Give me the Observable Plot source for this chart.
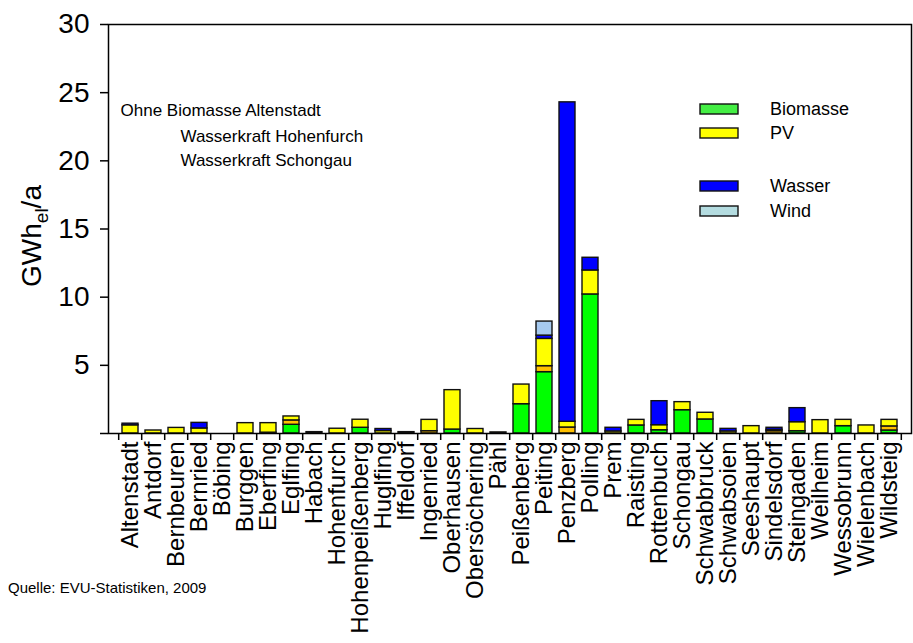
<!DOCTYPE html>
<html><head><meta charset="utf-8">
<script src="https://cdn.jsdelivr.net/npm/d3@7"></script>
<script src="https://cdn.jsdelivr.net/npm/@observablehq/plot@0.6"></script>
<style>
body{margin:0;background:#fff;font-family:"Liberation Sans",Arial,sans-serif}
#chart{position:relative;width:913px;height:643px}
</style>
</head><body><div id="chart"></div>
<script>
const categories = ["Altenstadt","Antdorf","Bernbeuren","Bernried","Böbing","Burggen","Eberfing","Eglfing","Habach","Hohenfurch","Hohenpeißenberg","Huglfing","Iffeldorf","Ingenried","Oberhausen","Obersöchering","Pähl","Peißenberg","Peiting","Penzberg","Polling","Prem","Raisting","Rottenbuch","Schongau","Schwabbruck","Schwabsoien","Seeshaupt","Sindelsdorf","Steingaden","Weilheim","Wessobrunn","Wielenbach","Wildsteig"];
const biomasse = [0,0,0,0,0,0,0.06,0.64,0,0,0.42,0,0,0,0.29,0,0,2.15,4.5,0,10.2,0,0.59,0.24,1.71,1.03,0,0,0,0.17,0,0.54,0,0.22];
const sonstige = [0,0,0,0,0,0,0,0.32,0,0,0,0,0,0.17,0,0,0,0,0.44,0.44,0,0,0,0,0,0,0,0,0.17,0,0,0,0,0.3];
const pv       = [0.6,0.22,0.41,0.37,0,0.76,0.7,0.29,0.1,0.35,0.59,0.18,0.1,0.83,2.89,0.33,0.08,1.44,2.0,0.42,1.76,0.15,0.41,0.37,0.59,0.49,0.15,0.54,0.1,0.66,0.98,0.46,0.59,0.48];
const wasser   = [0.12,0,0,0.41,0,0,0,0,0,0,0,0.15,0,0,0,0,0,0,0.24,23.43,0.93,0.27,0,1.76,0,0,0.19,0,0.15,1.03,0,0,0,0];
const wind     = [0,0,0,0,0,0,0,0,0,0,0,0,0,0,0,0,0,0,1.03,0,0,0,0,0,0,0,0,0,0,0,0,0,0,0];
const yTicks = [0,5,10,15,20,25,30];
const seriesNames = ["Biomasse","Sonstige","PV","Wasser","Wind"];
const seriesColors = ["#00FF00","#FFC000","#FFFF00","#0000FF","#A6CAF0"];
const legendNames = ["Biomasse","PV","Wasser","Wind"];
const legendColors = ["#44EE44","#FFFF00","#0000FF","#B4DCE0"];
const noteLines = ["Ohne Biomasse Altenstadt","Wasserkraft Hohenfurch","Wasserkraft Schongau"];
const caption = "Quelle: EVU-Statistiken, 2009";

const seriesValues = [biomasse, sonstige, pv, wasser, wind];
const rows = [];
categories.forEach((c, i) => {
  seriesValues.forEach((arr, k) => {
    if (arr[i] > 0) rows.push({ort: c, typ: seriesNames[k], wert: arr[i]});
  });
});

const W = 913, H = 643, mL = 108, mR = 2, mT = 24, mB = 210;
const step = (W - mL - mR) / categories.length;
const font = "'Liberation Sans', Arial, sans-serif";

const chart = Plot.plot({
  width: W, height: H,
  marginLeft: mL, marginRight: mR, marginTop: mT, marginBottom: mB,
  style: {fontFamily: font, fontSize: "24px", color: "#000", background: "#fff", overflow: "visible"},
  x: {domain: categories, paddingInner: 0.32, paddingOuter: 0.16, label: null},
  y: {domain: [0, 30], label: null},
  color: {domain: seriesNames, range: seriesColors},
  marks: [
    Plot.barY(rows, Plot.stackY({x: "ort", y: "wert", fill: "typ", order: seriesNames, stroke: "#111", strokeWidth: 1.4})),
    Plot.frame({stroke: "#000", strokeWidth: 1.5}),
    Plot.axisY({ticks: yTicks, tickSize: 8, tickPadding: 11, tickFormat: d => d === 0 ? "" : d, fontSize: 28, strokeWidth: 1.5, label: null}),
    Plot.axisX({ticks: categories, tickSize: 7, tickFormat: () => "", dx: -step / 2, strokeWidth: 1.5, label: null}),
    Plot.axisX({ticks: categories.slice(-1), tickSize: 7, tickFormat: () => "", dx: step / 2, strokeWidth: 1.5, label: null}),
    Plot.axisX({ticks: categories, tickSize: 0, tickPadding: 8, tickRotate: -90, fontSize: 24, label: null}),
    Plot.text([noteLines[0]], {frameAnchor: "top-left", dx: 12, dy: 79, textAnchor: "start", fontSize: 17}),
    Plot.text([noteLines[1]], {frameAnchor: "top-left", dx: 72, dy: 105, textAnchor: "start", fontSize: 17}),
    Plot.text([noteLines[2]], {frameAnchor: "top-left", dx: 72, dy: 129, textAnchor: "start", fontSize: 17})
  ]
});
document.getElementById("chart").appendChild(chart);

const svg = d3.select(chart);
// y-axis title with subscript
const yt = svg.append("text")
  .attr("transform", "translate(41,236) rotate(-90)")
  .attr("text-anchor", "middle")
  .attr("font-family", font).attr("font-size", 28).attr("fill", "#000");
yt.append("tspan").text("GWh");
yt.append("tspan").attr("font-size", 19).attr("dy", 7).text("el");
yt.append("tspan").attr("dy", -7).text("/a");

// legend
const legendY = [109, 133, 186, 211];
const lg = svg.append("g").attr("font-family", font).attr("font-size", 18).attr("text-anchor", "start");
legendNames.forEach((n, i) => {
  lg.append("rect").attr("x", 700).attr("y", legendY[i] - 5).attr("width", 38).attr("height", 10)
    .attr("fill", legendColors[i]).attr("stroke", "#111").attr("stroke-width", 1.4);
  lg.append("text").attr("x", 770).attr("y", legendY[i]).attr("dy", "0.35em").text(n);
});

// caption
svg.append("text").attr("x", 8).attr("y", 593).attr("text-anchor", "start")
  .attr("font-family", font).attr("font-size", 15).text(caption);
</script>
</body></html>
